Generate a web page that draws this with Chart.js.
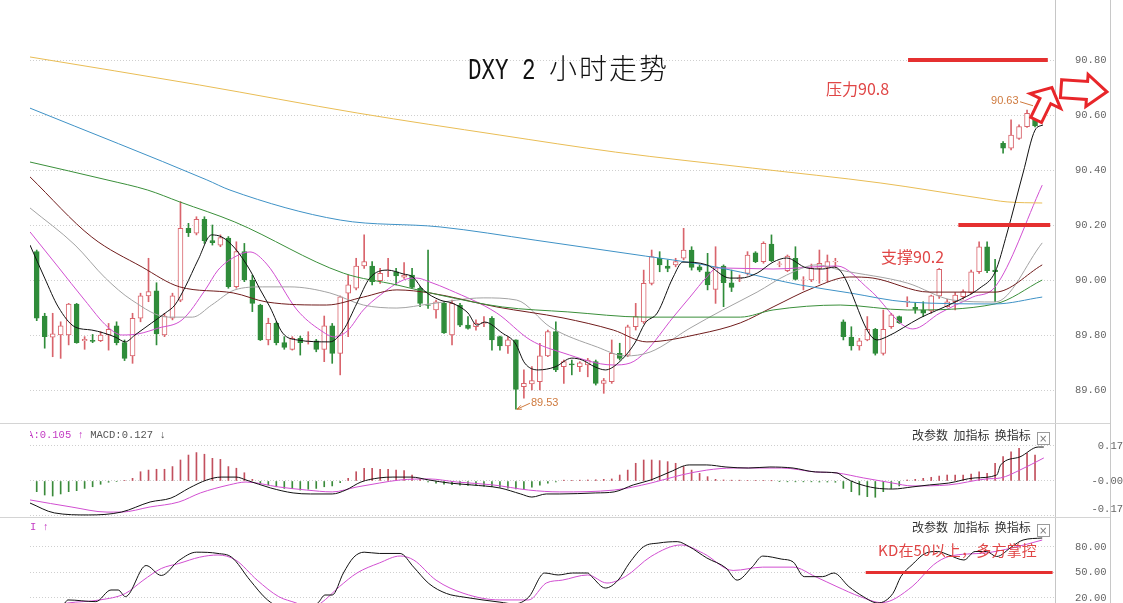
<!DOCTYPE html>
<html lang="zh-CN">
<head>
<meta charset="utf-8">
<title>DXY 2 小时走势</title>
<script src="https://cdn.jsdelivr.net/npm/chart.js@4.4.1/dist/chart.umd.min.js"></script>
<style>
html,body{margin:0;padding:0;background:#fff;}
#wrap{position:relative;width:1123px;height:603px;overflow:hidden;background:#fff;font-family:"Noto Sans CJK SC",sans-serif;}
canvas{position:absolute;left:0;}
.abs{position:absolute;white-space:pre;z-index:5;}
.hline{position:absolute;left:0;width:1110px;height:1px;background:#d4d4d4;z-index:4;}
.vline{position:absolute;top:0;left:1110px;width:1px;height:603px;background:#c8c8c8;z-index:4;}
#title{left:468px;top:50px;color:#111;}
#title .lat{display:inline-block;font-family:"Liberation Mono",monospace;font-size:30px;line-height:34px;transform:scaleX(0.75);transform-origin:0 50%;margin-right:-27px;}
#title .cjk{font-family:"Noto Sans CJK SC",sans-serif;font-weight:300;font-size:28px;line-height:34px;letter-spacing:2px;}
.note{font-family:"Noto Sans CJK SC",sans-serif;font-size:16px;line-height:18px;color:#e04646;}
.tool{font-family:"Noto Sans CJK SC",sans-serif;font-size:12px;line-height:14px;color:#333;}
.xbox{display:inline-block;width:11px;height:11px;border:1px solid #9a9a9a;font-family:"DejaVu Sans",sans-serif;font-size:10px;line-height:11px;text-align:center;color:#777;margin-left:6px;vertical-align:-2px;}
.ind{font-family:"Liberation Mono",monospace;font-size:10.5px;line-height:14px;overflow:hidden;}
.ext{font-family:"Liberation Sans",Arial,sans-serif;font-size:11px;line-height:12px;color:#cf7a3e;}
</style>
</head>
<body>
<div id="wrap">
  <canvas id="mainC" width="1123" height="423" style="top:0"></canvas>
  <canvas id="macdC" width="1123" height="94" style="top:423px"></canvas>
  <canvas id="kdC" width="1123" height="86" style="top:517px"></canvas>

  <div class="hline" style="top:423px"></div>
  <div class="hline" style="top:517px"></div>
  <div class="vline"></div>

  <div id="title" class="abs"><span class="lat">DXY 2 </span><span class="cjk">小时走势</span></div>
  <div class="abs note" style="left:826px;top:79px">压力90.8</div>
  <div class="abs note" style="left:881px;top:247px">支撑90.2</div>
  <div class="abs note" style="left:878px;top:541px;font-size:15px;letter-spacing:0.2px">KD在50以上，多方掌控</div>

  <div id="extHi" class="abs ext" style="left:988px;top:94px">90.63</div>
  <div id="extLo" class="abs ext" style="left:531px;top:396px">89.53</div>

  <div class="abs ind" style="left:30px;top:428px;width:200px"><span style="margin-left:-15.5px;color:#c33ac3">DEA:0.105 ↑</span> <span style="color:#555">MACD:0.127 ↓</span></div>
  <div class="abs ind" style="left:30px;top:520px;width:60px"><span style="color:#c33ac3">I ↑</span></div>

  <div class="abs tool" style="left:912px;top:428px">改参数  加指标  换指标<span class="xbox">×</span></div>
  <div class="abs tool" style="left:912px;top:520px">改参数  加指标  换指标<span class="xbox">×</span></div>
</div>

<script>
// ---------------- DATA ----------------
// 2-hour candles, index 0..125
const openP = [90.103,89.869,89.792,89.800,89.800,89.912,89.779,89.781,89.779,89.800,
89.833,89.772,89.724,89.861,89.942,89.961,89.800,89.861,89.927,90.188,
90.170,90.221,90.143,90.127,90.152,89.976,90.103,90.000,89.909,89.782,
89.842,89.772,89.748,89.788,89.776,89.779,89.748,89.833,89.733,89.952,
89.970,90.051,90.051,89.998,90.034,90.030,90.010,90.018,89.970,89.910,
89.891,89.915,89.800,89.909,89.836,89.830,89.842,89.861,89.794,89.760,
89.782,89.612,89.622,89.630,89.724,89.812,89.685,89.695,89.685,89.691,
89.703,89.624,89.630,89.733,89.727,89.830,89.848,89.988,90.079,90.051,
90.055,90.079,90.109,90.048,90.030,89.966,90.051,89.990,90.004,90.024,
90.099,90.067,90.131,90.057,90.034,90.079,90.000,90.000,90.042,90.046,
90.066,89.848,89.792,89.760,89.782,89.821,89.733,89.830,89.867,89.921,
89.901,89.891,89.888,89.942,89.903,89.921,89.939,89.954,90.030,90.121,
90.036,90.497,90.479,90.515,90.558,90.606];
const highP = [90.109,89.879,89.879,89.848,89.915,89.915,89.794,89.802,89.812,89.842,
89.848,89.782,89.879,89.952,90.079,89.990,89.879,89.952,90.285,90.206,
90.230,90.230,90.200,90.164,90.158,90.139,90.133,90.018,89.912,89.861,
89.848,89.794,89.794,89.796,89.812,89.784,89.869,89.842,89.942,90.018,
90.079,90.164,90.067,90.042,90.079,90.042,90.063,90.042,89.976,90.109,
89.927,89.921,89.927,89.915,89.867,89.855,89.867,89.867,89.796,89.794,
89.782,89.673,89.685,89.770,89.818,89.848,89.709,89.709,89.703,89.715,
89.709,89.642,89.782,89.770,89.836,89.915,90.036,90.109,90.103,90.073,
90.079,90.188,90.121,90.055,90.097,90.121,90.055,90.036,90.018,90.103,
90.103,90.139,90.164,90.067,90.091,90.121,90.012,90.058,90.109,90.091,
90.079,89.855,89.830,89.788,89.867,89.824,89.891,89.879,89.869,89.939,
89.918,89.921,89.945,90.042,89.930,89.954,89.964,90.036,90.139,90.139,
90.075,90.503,90.582,90.564,90.618,90.630];
const lowP = [89.852,89.752,89.721,89.715,89.764,89.770,89.748,89.772,89.776,89.745,
89.764,89.707,89.697,89.848,89.921,89.764,89.794,89.855,89.921,90.158,
90.164,90.133,90.127,90.121,89.970,89.970,89.994,89.885,89.780,89.764,
89.764,89.748,89.745,89.727,89.767,89.739,89.703,89.697,89.655,89.794,
89.964,90.042,89.982,89.988,90.012,89.982,90.006,89.970,89.903,89.897,
89.861,89.806,89.764,89.830,89.821,89.818,89.830,89.745,89.745,89.733,
89.530,89.570,89.600,89.600,89.721,89.667,89.624,89.655,89.667,89.648,
89.618,89.588,89.624,89.709,89.721,89.818,89.842,89.982,90.030,90.030,
90.048,90.073,90.036,90.030,89.964,89.915,89.903,89.958,89.994,90.018,
90.063,90.061,90.067,90.048,90.030,90.000,89.964,89.994,89.988,89.994,
90.046,89.782,89.745,89.745,89.779,89.727,89.727,89.824,89.842,89.903,
89.879,89.867,89.879,89.933,89.901,89.891,89.930,89.949,90.024,90.027,
89.921,90.461,90.473,90.511,90.555,90.557];
const closeP = [89.861,89.794,89.804,89.833,89.912,89.772,89.784,89.777,89.800,89.821,
89.772,89.715,89.861,89.942,89.958,89.804,89.869,89.942,90.188,90.172,
90.221,90.143,90.136,90.154,89.976,90.103,90.000,89.915,89.782,89.842,
89.772,89.755,89.788,89.772,89.778,89.748,89.833,89.733,89.939,89.982,
90.051,90.067,89.994,90.024,90.036,90.015,90.018,89.973,89.915,89.908,
89.921,89.808,89.915,89.836,89.824,89.842,89.846,89.782,89.760,89.782,
89.602,89.624,89.634,89.724,89.812,89.673,89.703,89.691,89.699,89.709,
89.624,89.634,89.733,89.715,89.830,89.867,89.988,90.085,90.055,90.042,
90.067,90.109,90.046,90.036,89.982,90.048,89.990,89.973,90.008,90.091,
90.067,90.133,90.070,90.059,90.087,90.002,90.001,90.042,90.061,90.067,
90.068,89.794,89.760,89.779,89.821,89.733,89.821,89.873,89.845,89.923,
89.893,89.879,89.942,90.039,89.921,89.945,89.958,90.030,90.121,90.034,
90.030,90.479,90.527,90.558,90.606,90.560];

// moving averages, [candle index, value]
const maBlack = [[-0.84,90.127],[1.0,90.007],[2.7,89.902],[4.8,89.829],[6.9,89.818],[9.8,89.793],[11.1,89.775],[12.3,89.800],[14.4,89.844],[16.1,89.880],[17.3,89.909],[18.6,89.975],[20.2,90.073],[21.9,90.164],[23.2,90.156],[24.8,90.116],[26.7,90.036],[28.0,89.964],[29.2,89.902],[30.8,89.807],[32.6,89.782],[36.7,89.775],[38.4,89.818],[40.1,89.916],[41.7,90.007],[43.9,90.036],[45.9,90.022],[47.1,90.011],[48.4,89.964],[50.5,89.927],[52.0,89.916],[54.0,89.880],[55.1,89.836],[56.1,89.847],[58.3,89.807],[59.9,89.771],[61.1,89.698],[62.8,89.673],[64.9,89.684],[67.0,89.716],[68.3,89.709],[69.9,89.684],[71.2,89.673],[72.8,89.698],[74.9,89.771],[76.2,89.844],[77.7,89.880],[79.7,90.011],[80.9,90.065],[83.9,90.055],[86.8,90.007],[88.1,90.007],[90.2,90.025],[92.2,90.065],[93.9,90.080],[96.4,90.044],[98.4,90.040],[99.9,90.047],[105.2,89.782],[106.4,89.793],[110.6,89.862],[114.7,89.916],[118.1,89.971],[120.0,90.029],[121.5,90.171],[123.5,90.389],[125.0,90.545],[126.0,90.564]];
const maMagenta = [[-0.84,90.175],[2.7,90.047],[6.0,89.927],[8.9,89.829],[10.7,89.800],[12.7,89.804],[15.2,89.825],[18.2,89.855],[21.1,89.964],[22.7,90.036],[24.8,90.084],[26.7,90.102],[28.8,90.058],[32.6,89.891],[35.5,89.818],[37.3,89.793],[38.9,89.815],[40.9,89.891],[43.0,89.945],[45.9,90.000],[47.6,90.007],[49.2,89.993],[51.7,89.964],[57.6,89.880],[61.8,89.782],[65.9,89.735],[72.2,89.691],[74.3,89.698],[76.2,89.738],[79.7,89.865],[81.8,89.938],[83.9,90.011],[85.2,90.044],[92.2,90.040],[100.2,90.051],[104.3,89.964],[109.7,89.822],[113.1,89.880],[117.2,89.938],[120.0,89.975],[125.9,90.345]];
const maGray = [[-0.84,90.262],[4.8,90.127],[8.6,90.007],[11.9,89.927],[16.5,89.865],[19.5,89.865],[21.9,89.909],[24.8,89.964],[28.3,89.975],[31.7,89.975],[36.7,89.953],[40.9,89.909],[45.1,89.898],[49.2,89.913],[55.9,89.935],[60.1,89.927],[64.3,89.829],[70.2,89.756],[73.7,89.724],[76.8,89.738],[81.8,89.825],[85.9,89.891],[90.2,89.956],[93.9,90.018],[97.7,90.055],[100.6,90.036],[109.0,89.989],[114.7,89.927],[120.0,89.920],[125.9,90.135]];
const maBrown = [[-0.84,90.375],[6.9,90.156],[13.2,90.047],[17.9,89.975],[24.6,89.953],[28.8,89.920],[36.3,89.909],[40.9,89.938],[45.1,89.964],[49.2,89.953],[57.6,89.902],[65.9,89.862],[72.2,89.818],[76.4,89.775],[83.0,89.804],[88.1,89.844],[92.2,89.902],[97.2,89.971],[101.8,90.011],[104.7,90.007],[111.8,89.956],[120.0,89.956],[125.9,90.055]];
const maGreen = [[-0.84,90.429],[8.8,90.364],[13.9,90.327],[17.9,90.284],[24.8,90.211],[38.4,90.025],[45.1,89.982],[50.5,89.945],[58.3,89.902],[66.5,89.884],[76.2,89.865],[88.1,89.865],[92.2,89.891],[100.6,89.909],[109.0,89.891],[120.0,89.913],[125.9,90.000]];
const maBlue = [[-0.84,90.625],[21.3,90.364],[24.2,90.327],[38.0,90.218],[50.5,90.193],[62.4,90.145],[76.2,90.087],[83.0,90.058],[88.1,90.029],[95.6,89.982],[101.8,89.953],[109.0,89.920],[120.0,89.913],[125.9,89.938]];
const maYellow = [[-0.84,90.811],[20.4,90.709],[40.2,90.607],[58.0,90.527],[72.5,90.465],[89.6,90.407],[105.6,90.353],[118.1,90.298],[121.5,90.284],[125.9,90.280]];

// resistance / support marks
const resistLine = [[109.1,90.8],[126.6,90.8]];
const supportLine = [[115.4,90.2],[126.9,90.2]];

// MACD histogram per candle, DIF and DEA lines
const macdHist = [-0.052,-0.068,-0.073,-0.063,-0.052,-0.047,-0.036,-0.028,-0.016,-0.006,
-0.002,0.003,0.013,0.045,0.053,0.057,0.057,0.070,0.102,0.126,
0.138,0.130,0.110,0.105,0.070,0.062,0.040,0.008,-0.011,-0.019,
-0.028,-0.036,-0.036,-0.044,-0.040,-0.036,-0.028,-0.024,-0.008,0.013,
0.045,0.062,0.062,0.057,0.057,0.053,0.050,0.029,0.008,-0.005,
-0.010,-0.015,-0.018,-0.020,-0.022,-0.020,-0.025,-0.028,-0.030,-0.035,
-0.038,-0.040,-0.030,-0.020,-0.010,-0.005,0.004,0.003,0.004,0.005,
0.006,0.008,0.010,0.029,0.053,0.086,0.102,0.102,0.099,0.094,
0.086,0.070,0.053,0.037,0.021,0.008,0.005,0.004,0.004,0.003,
0.003,0.003,0.001,-0.001,-0.004,-0.004,-0.004,-0.004,-0.005,-0.005,
-0.006,-0.036,-0.052,-0.068,-0.076,-0.079,-0.052,-0.036,-0.024,0.005,
0.008,0.013,0.018,0.024,0.029,0.029,0.029,0.034,0.045,0.037,
0.086,0.118,0.142,0.159,0.134,0.126];
const macdDif = [[-0.84,-0.107],[2.2,-0.155],[6.5,-0.165],[10.6,-0.151],[14.2,-0.102],[16.8,-0.083],[19.1,-0.034],[21.3,0.005],[23.1,0.019],[25.0,0.019],[26.2,0.005],[29.3,-0.034],[32.1,-0.058],[34.3,-0.063],[37.0,-0.063],[38.7,-0.044],[40.6,-0.005],[42.9,0.015],[44.6,0.019],[46.9,0.019],[49.1,0.005],[51.7,-0.010],[54.4,-0.019],[58.0,-0.034],[60.6,-0.063],[62.0,-0.078],[63.8,-0.063],[65.5,-0.063],[70.0,-0.058],[72.3,-0.053],[74.7,-0.019],[76.9,0.005],[79.3,0.044],[81.7,0.078],[83.9,0.078],[86.3,0.068],[89.1,0.063],[91.8,0.068],[94.7,0.063],[97.5,0.044],[100.2,0.039],[101.2,0.015],[102.6,-0.010],[105.0,-0.034],[107.2,-0.039],[109.6,-0.029],[111.8,-0.019],[114.2,-0.010],[117.5,0.015],[120.2,0.029],[120.7,0.078],[123.1,0.117],[125.4,0.165],[126.1,0.165]];
const macdDea = [[-0.84,-0.092],[4.3,-0.126],[8.8,-0.151],[10.6,-0.151],[14.2,-0.126],[17.8,-0.102],[20.5,-0.058],[24.1,-0.019],[26.2,-0.005],[30.3,-0.029],[33.8,-0.044],[37.0,-0.053],[40.1,-0.029],[42.9,-0.010],[45.5,0.005],[49.1,0.010],[52.6,-0.005],[57.1,-0.019],[61.6,-0.044],[65.5,-0.053],[72.3,-0.044],[76.9,-0.010],[80.7,0.029],[83.9,0.053],[87.2,0.063],[93.3,0.063],[97.5,0.044],[100.2,0.039],[103.5,0.015],[107.2,-0.010],[109.6,-0.024],[114.2,-0.019],[118.9,0.010],[120.7,0.015],[123.1,0.053],[126.1,0.112]];

// KD lines
const kdK = [[-0.84,6],[3.4,13],[3.9,17.7],[7.4,15.7],[9.3,29.4],[10.2,29.4],[11.1,21.6],[13.7,58.2],[15.6,46.5],[17.8,64.1],[20.0,73.9],[22.7,72.4],[24.4,68.0],[26.7,41.0],[28.9,17.7],[31.7,5],[35.2,14.1],[36.1,23.5],[37.0,23.5],[38.4,49.4],[39.7,68.0],[41.0,73.9],[42.9,72.4],[45.5,72.4],[47.2,56.3],[49.1,37.0],[51.3,25.3],[53.5,21.0],[58.0,15.1],[59.8,13],[61.6,21.0],[63.6,49.4],[65.3,47.1],[67.1,49.4],[69.0,49.4],[69.5,45.1],[71.2,31.7],[72.8,41.0],[74.2,61.0],[76.0,80.4],[77.9,84.7],[80.2,86.3],[81.7,80.4],[83.9,67.1],[86.3,55.3],[87.7,41.0],[89.6,56.7],[90.9,69.3],[93.3,65.7],[94.7,62.5],[96.1,45.1],[98.4,45.1],[99.8,49.4],[101.7,33.3],[103.5,21.6],[105.3,14.1],[107.2,25.3],[108.2,45.1],[109.6,59.1],[111.4,73.1],[112.8,74.7],[114.2,70.6],[116.1,64.7],[117.5,74.7],[118.9,74.7],[120.2,68.8],[122.1,80.4],[123.5,88.2],[125.9,90.6]];
const kdD = [[-0.84,5],[3.9,14.1],[7.9,17.7],[11.1,25.3],[13.3,40.6],[15.6,54.7],[17.8,60.6],[20.4,68.0],[22.7,70.6],[24.9,64.7],[27.6,41.0],[30.3,21.6],[32.5,14.1],[34.2,8],[35.6,14.1],[37.9,33.3],[40.1,49.4],[42.9,61.2],[45.5,69.4],[47.2,64.7],[50.0,41.0],[53.5,25.3],[58.0,17.7],[61.6,17.7],[63.8,37.6],[65.8,41.0],[69.0,47.1],[71.4,37.6],[73.7,45.1],[76.9,68.8],[80.7,82.4],[83.5,72.4],[87.2,52.4],[90.9,56.3],[94.7,56.3],[97.5,45.1],[100.2,33.3],[103.1,21.6],[105.8,14.5],[109.6,33.3],[112.3,59.1],[114.2,68.8],[118.9,73.1],[122.1,78.8],[125.9,88.2]];
const kdLevel = [[103.8,50],[127.2,50]];

// axis ticks
const mainTicks = [89.6, 89.8, 90.0, 90.2, 90.4, 90.6, 90.8];
const mainTickLabels = ['89.60','89.80','90.00','90.20','90.40','90.60','90.80'];
const macdTicks = [-0.17, 0, 0.17];
const macdTickLabels = ['-0.17','-0.00','0.17'];
const kdTicks = [20, 50, 80];
const kdTickLabels = ['20.00','50.00','80.00'];

// ---------------- STYLE / BUILD ----------------
const UP = '#d9646c', DN = '#2f8c3a', ANN = '#e53030', EXT = '#cf7a3e';
const isUp = closeP.map((c, i) => c >= openP[i]);
const pts = arr => arr.map(p => ({x: p[0], y: p[1]}));

function lineDS(arr, color, width, order) {
  return {type: 'line', data: pts(arr), borderColor: color, borderWidth: width,
    pointRadius: 0, fill: false, cubicInterpolationMode: 'monotone', order: order};
}
function xScale() {
  return {type: 'linear', min: -0.84, max: 127.5, display: false, offset: false, grid: {display: false}};
}
function yScale(min, max, ticks, labels, align, pad, twoLineFirst) {
  return {
    position: 'right', min: min, max: max, beginAtZero: false,
    grid: {color: '#cfcfcf', lineWidth: 1, drawTicks: false},
    border: {display: true, color: '#c6c6c6', width: 1, dash: [1, 2]},
    ticks: {autoSkip: false, color: '#666', padding: pad, crossAlign: align,
      font: {family: '"Liberation Mono", monospace', size: 10.5},
      callback: (v, i) => (twoLineFirst && i === 0) ? [labels[i], ''] : labels[i]},
    afterBuildTicks: s => { s.ticks = ticks.map(v => ({value: v})); },
    afterFit: s => { s.width = 68; s.paddingTop = 0; s.paddingBottom = 0; }
  };
}
const baseOpts = {
  responsive: false, animation: false, events: [],
  layout: {padding: {left: 30, right: 0, top: 0, bottom: 0}, autoPadding: false},
  plugins: {legend: {display: false}, tooltip: {enabled: false}, title: {display: false}}
};

function hollowArrow(ctx, cx, cy, len, shaftH, headH, headLen, ang) {
  ctx.save();
  ctx.translate(cx, cy); ctx.rotate(ang);
  const h = len / 2;
  ctx.beginPath();
  ctx.moveTo(-h, -shaftH);
  ctx.lineTo(h - headLen, -shaftH);
  ctx.lineTo(h - headLen, -headH);
  ctx.lineTo(h, 0);
  ctx.lineTo(h - headLen, headH);
  ctx.lineTo(h - headLen, shaftH);
  ctx.lineTo(-h, shaftH);
  ctx.closePath();
  ctx.fillStyle = '#fff'; ctx.fill();
  ctx.lineWidth = 3; ctx.strokeStyle = '#e8262a'; ctx.lineJoin = 'miter'; ctx.stroke();
  ctx.restore();
}

const decoPlugin = {
  id: 'deco',
  afterDraw(chart) {
    const ctx = chart.ctx, xs = chart.scales.x, ys = chart.scales.y;
    let hi = 0, lo = 0;
    highP.forEach((v, i) => { if (v > highP[hi]) hi = i; });
    lowP.forEach((v, i) => { if (v < lowP[lo]) lo = i; });
    const hx = xs.getPixelForValue(hi), hy = ys.getPixelForValue(highP[hi]);
    const lx = xs.getPixelForValue(lo), ly = ys.getPixelForValue(lowP[lo]);
    ctx.save();
    ctx.strokeStyle = EXT; ctx.lineWidth = 1;
    ctx.beginPath(); ctx.moveTo(hx - 2, hy - 1); ctx.lineTo(hx - 15, hy - 5); ctx.stroke();
    ctx.beginPath(); ctx.moveTo(lx + 1, ly); ctx.lineTo(lx + 14, ly - 6); ctx.stroke();
    ctx.beginPath(); ctx.moveTo(lx + 1, ly); ctx.lineTo(lx + 5, ly - 4); ctx.moveTo(lx + 1, ly); ctx.lineTo(lx + 6, ly); ctx.stroke();
    ctx.restore();
    // big hollow arrows near the last candle
    hollowArrow(ctx, hx + 9, ys.getPixelForValue(90.63) - 3, 36, 6, 17, 15, -64 * Math.PI / 180);
    hollowArrow(ctx, 1084, ys.getPixelForValue(90.69), 46, 9, 16, 20, 4 * Math.PI / 180);
  }
};

// ---- main price chart ----
const mainChart = new Chart(document.getElementById('mainC'), {
  type: 'bar',
  data: {datasets: [
    {type: 'bar', data: openP.map((o, i) => ({x: i, y: [lowP[i], highP[i]]})),
      backgroundColor: isUp.map(u => u ? UP : DN), borderWidth: 0, barThickness: 1, grouped: false, order: 5},
    {type: 'bar', data: openP.map((o, i) => ({x: i, y: [o, closeP[i]]})),
      backgroundColor: isUp.map(u => u ? '#ffffff' : DN), borderColor: isUp.map(u => u ? UP : DN),
      borderWidth: 1, borderSkipped: false, barThickness: 5, grouped: false, order: 4},
    lineDS(maYellow, '#e9bd55', 1, 3),
    lineDS(maBlue, '#3f92c6', 1, 3),
    lineDS(maGreen, '#3a8f3a', 1, 3),
    lineDS(maBrown, '#701c1c', 1, 3),
    lineDS(maGray, '#a3a3a3', 1, 3),
    lineDS(maMagenta, '#d14fd1', 1, 3),
    lineDS(maBlack, '#111111', 1, 2),
    Object.assign(lineDS(resistLine, ANN, 4, 0), {cubicInterpolationMode: 'default', tension: 0}),
    Object.assign(lineDS(supportLine, ANN, 4, 0), {cubicInterpolationMode: 'default', tension: 0})
  ]},
  options: Object.assign({}, baseOpts, {
    scales: {x: xScale(), y: yScale(89.48, 91.0182, mainTicks, mainTickLabels, 'near', 20, false)}
  }),
  plugins: [decoPlugin]
});

// ---- MACD ----
new Chart(document.getElementById('macdC'), {
  type: 'bar',
  data: {datasets: [
    {type: 'bar', data: macdHist.map((v, i) => ({x: i, y: v})),
      backgroundColor: macdHist.map(v => v >= 0 ? '#c2505e' : '#3a8a3a'), borderWidth: 0, barThickness: 1, grouped: false, order: 3},
    lineDS(macdDea, '#d14fd1', 1, 2),
    lineDS(macdDif, '#111111', 1, 1)
  ]},
  options: Object.assign({}, baseOpts, {
    scales: {x: xScale(), y: yScale(-0.1749, 0.2817, macdTicks, macdTickLabels, 'far', 16.5, true)}
  })
});

// ---- KD ----
new Chart(document.getElementById('kdC'), {
  type: 'line',
  data: {datasets: [
    lineDS(kdD, '#d14fd1', 1, 2),
    lineDS(kdK, '#111111', 1, 1),
    Object.assign(lineDS(kdLevel, ANN, 3, 0), {cubicInterpolationMode: 'default', tension: 0})
  ]},
  options: Object.assign({}, baseOpts, {
    scales: {x: xScale(), y: yScale(14.1, 115.3, kdTicks, kdTickLabels, 'near', 20, false)}
  })
});

// ---- place the extreme-value labels from the scales ----
(function placeExtremes() {
  const xs = mainChart.scales.x, ys = mainChart.scales.y;
  let hi = 0, lo = 0;
  highP.forEach((v, i) => { if (v > highP[hi]) hi = i; });
  lowP.forEach((v, i) => { if (v < lowP[lo]) lo = i; });
  const a = document.getElementById('extHi'), b = document.getElementById('extLo');
  a.style.left = (xs.getPixelForValue(hi) - 16 - a.offsetWidth) + 'px';
  a.style.top = (ys.getPixelForValue(highP[hi]) - 13) + 'px';
  b.style.left = (xs.getPixelForValue(lo) + 15) + 'px';
  b.style.top = (ys.getPixelForValue(lowP[lo]) - 13) + 'px';
})();
</script>
</body>
</html>
